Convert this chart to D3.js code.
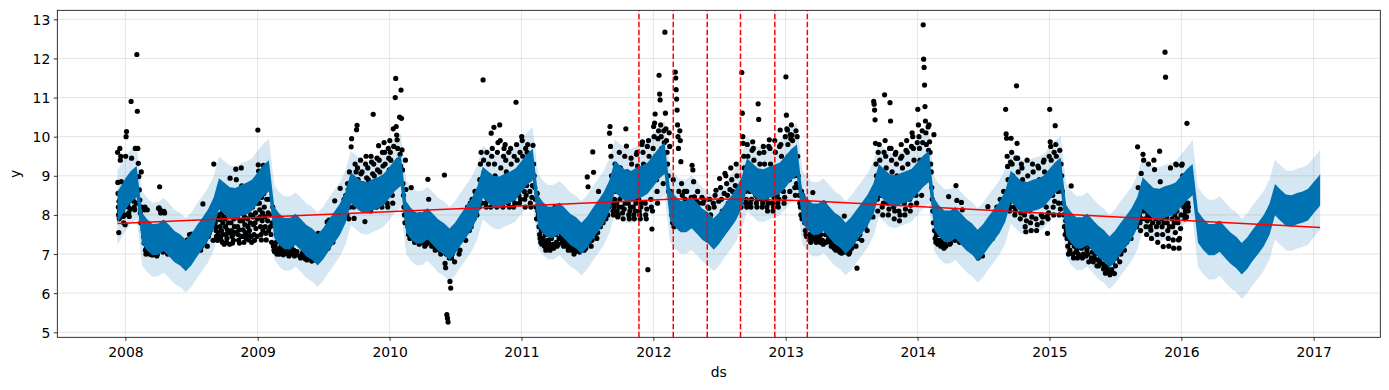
<!DOCTYPE html>
<html><head><meta charset="utf-8">
<script src="https://cdn.jsdelivr.net/npm/d3@7"></script>
<style>
body{margin:0;background:#fff}
svg{display:block}
text{font-family:"DejaVu Sans",sans-serif;fill:#000}
</style>
</head><body>
<svg id="chart" width="1389" height="390"></svg>
<script>
// ---------------- data ----------------
const xTickLabels = ["2008","2009","2010","2011","2012","2013","2014","2015","2016","2017"];
const yTickLabels = [5,6,7,8,9,10,11,12,13];
const changepoints = ["2011-11-22","2012-02-25","2012-05-29","2012-08-29","2012-12-02","2013-03-02"];
const trendDates  = ["2007-12-10","2011-11-22","2012-02-25","2012-05-29","2012-08-29","2012-12-02","2013-03-02","2017-01-19"];
const trendValues = [7.78, 8.36, 8.41, 8.41, 8.40, 8.38, 8.36, 7.68];

// forecast, semi-monthly (1st & 16th), 2007-12-10 .. 2017-01-19
// fcHi / fcLo : extent of the yhat line (weekly swing); bandHi / bandLo : uncertainty interval
const fcHi = [
 8.60, 8.68,
 8.94, 9.12, 9.25, 8.06, 7.89, 7.77, 7.78, 7.88, 7.74, 7.59, 7.50, 7.36, 7.51, 7.72, 7.93, 8.13, 8.44, 8.94, 8.82, 8.71, 8.69, 8.77, 8.82, 8.90,
 9.09, 9.27, 9.40, 8.21, 8.04, 7.92, 7.93, 8.03, 7.89, 7.74, 7.65, 7.51, 7.66, 7.87, 8.08, 8.28, 8.59, 9.09, 8.97, 8.86, 8.84, 8.92, 8.97, 9.05,
 9.23, 9.41, 9.54, 8.35, 8.18, 8.06, 8.07, 8.17, 8.03, 7.88, 7.79, 7.65, 7.80, 8.01, 8.22, 8.42, 8.73, 9.23, 9.11, 9.00, 8.98, 9.06, 9.11, 9.19,
 9.38, 9.56, 9.69, 8.50, 8.33, 8.21, 8.22, 8.32, 8.18, 8.03, 7.94, 7.80, 7.95, 8.16, 8.37, 8.57, 8.88, 9.38, 9.26, 9.15, 9.13, 9.21, 9.26, 9.34,
 9.53, 9.71, 9.85, 8.66, 8.49, 8.36, 8.36, 8.46, 8.31, 8.16, 8.06, 7.91, 8.06, 8.26, 8.46, 8.66, 8.96, 9.45, 9.32, 9.19, 9.17, 9.23, 9.28, 9.34,
 9.51, 9.68, 9.80, 8.60, 8.43, 8.29, 8.29, 8.38, 8.22, 8.06, 7.96, 7.80, 7.94, 8.13, 8.33, 8.52, 8.81, 9.30, 9.17, 9.04, 9.01, 9.07, 9.12, 9.18,
 9.35, 9.51, 9.64, 8.43, 8.25, 8.11, 8.11, 8.20, 8.04, 7.89, 7.78, 7.62, 7.76, 7.96, 8.15, 8.34, 8.63, 9.13, 8.99, 8.86, 8.84, 8.90, 8.94, 9.00,
 9.18, 9.34, 9.47, 8.26, 8.08, 7.94, 7.94, 8.03, 7.87, 7.72, 7.61, 7.45, 7.59, 7.79, 7.98, 8.17, 8.46, 8.96, 8.82, 8.69, 8.67, 8.73, 8.77, 8.83,
 9.01, 9.17, 9.30, 8.09, 7.91, 7.77, 7.77, 7.86, 7.70, 7.55, 7.44, 7.28, 7.42, 7.62, 7.81, 8.00, 8.29, 8.79, 8.65, 8.52, 8.50, 8.56, 8.60, 8.66,
 8.84, 9.00, 9.05
];
const fcLo = [
 7.80, 7.88,
 8.14, 8.32, 8.45, 7.26, 7.09, 6.97, 6.98, 7.08, 6.94, 6.79, 6.70, 6.56, 6.71, 6.92, 7.13, 7.33, 7.64, 8.14, 8.02, 7.91, 7.89, 7.97, 8.02, 8.10,
 8.29, 8.47, 8.60, 7.41, 7.24, 7.12, 7.13, 7.23, 7.09, 6.94, 6.85, 6.71, 6.86, 7.07, 7.28, 7.48, 7.79, 8.29, 8.17, 8.06, 8.04, 8.12, 8.17, 8.25,
 8.43, 8.61, 8.74, 7.55, 7.38, 7.26, 7.27, 7.37, 7.23, 7.08, 6.99, 6.85, 7.00, 7.21, 7.42, 7.62, 7.93, 8.43, 8.31, 8.20, 8.18, 8.26, 8.31, 8.39,
 8.58, 8.76, 8.89, 7.70, 7.53, 7.41, 7.42, 7.52, 7.38, 7.23, 7.14, 7.00, 7.15, 7.36, 7.57, 7.77, 8.08, 8.58, 8.46, 8.35, 8.33, 8.41, 8.46, 8.54,
 8.73, 8.91, 9.05, 7.86, 7.69, 7.56, 7.56, 7.66, 7.51, 7.36, 7.26, 7.11, 7.26, 7.46, 7.66, 7.86, 8.16, 8.65, 8.52, 8.39, 8.37, 8.43, 8.48, 8.54,
 8.71, 8.88, 9.00, 7.80, 7.63, 7.49, 7.49, 7.58, 7.42, 7.26, 7.16, 7.00, 7.14, 7.33, 7.53, 7.72, 8.01, 8.50, 8.37, 8.24, 8.21, 8.27, 8.32, 8.38,
 8.55, 8.71, 8.84, 7.63, 7.45, 7.31, 7.31, 7.40, 7.24, 7.09, 6.98, 6.82, 6.96, 7.16, 7.35, 7.54, 7.83, 8.33, 8.19, 8.06, 8.04, 8.10, 8.14, 8.20,
 8.38, 8.54, 8.67, 7.46, 7.28, 7.14, 7.14, 7.23, 7.07, 6.92, 6.81, 6.65, 6.79, 6.99, 7.18, 7.37, 7.66, 8.16, 8.02, 7.89, 7.87, 7.93, 7.97, 8.03,
 8.21, 8.37, 8.50, 7.29, 7.11, 6.97, 6.97, 7.06, 6.90, 6.75, 6.64, 6.48, 6.62, 6.82, 7.01, 7.20, 7.49, 7.99, 7.85, 7.72, 7.70, 7.76, 7.80, 7.86,
 8.04, 8.20, 8.25
];
const bandHi = [
 9.15, 9.23,
 9.49, 9.67, 9.80, 8.61, 8.44, 8.32, 8.33, 8.43, 8.29, 8.14, 8.05, 7.91, 8.06, 8.27, 8.48, 8.68, 8.99, 9.49, 9.37, 9.26, 9.24, 9.32, 9.37, 9.45,
 9.64, 9.82, 9.95, 8.76, 8.59, 8.47, 8.48, 8.58, 8.44, 8.29, 8.20, 8.06, 8.21, 8.42, 8.63, 8.83, 9.14, 9.64, 9.52, 9.41, 9.39, 9.47, 9.52, 9.60,
 9.78, 9.96, 10.09, 8.90, 8.73, 8.61, 8.62, 8.72, 8.58, 8.43, 8.34, 8.20, 8.35, 8.56, 8.77, 8.97, 9.28, 9.78, 9.66, 9.55, 9.53, 9.61, 9.66, 9.74,
 9.93, 10.11, 10.24, 9.05, 8.88, 8.76, 8.77, 8.87, 8.73, 8.58, 8.49, 8.35, 8.50, 8.71, 8.92, 9.12, 9.43, 9.93, 9.81, 9.70, 9.68, 9.76, 9.81, 9.89,
 10.08, 10.26, 10.40, 9.21, 9.04, 8.91, 8.91, 9.01, 8.86, 8.71, 8.61, 8.46, 8.61, 8.81, 9.01, 9.21, 9.51, 10.00, 9.87, 9.74, 9.72, 9.78, 9.83, 9.89,
 10.06, 10.23, 10.35, 9.15, 8.98, 8.84, 8.84, 8.93, 8.77, 8.61, 8.51, 8.35, 8.49, 8.68, 8.88, 9.07, 9.36, 9.85, 9.72, 9.59, 9.56, 9.62, 9.67, 9.73,
 9.90, 10.06, 10.19, 8.98, 8.80, 8.66, 8.66, 8.75, 8.59, 8.44, 8.33, 8.17, 8.31, 8.51, 8.70, 8.89, 9.18, 9.68, 9.54, 9.41, 9.39, 9.45, 9.49, 9.55,
 9.73, 9.89, 10.02, 8.81, 8.63, 8.49, 8.49, 8.58, 8.42, 8.27, 8.16, 8.00, 8.14, 8.34, 8.53, 8.72, 9.01, 9.51, 9.37, 9.24, 9.22, 9.28, 9.32, 9.38,
 9.56, 9.72, 9.92, 8.71, 8.53, 8.39, 8.39, 8.48, 8.32, 8.17, 8.06, 7.90, 8.04, 8.24, 8.43, 8.62, 8.91, 9.41, 9.27, 9.14, 9.12, 9.18, 9.22, 9.28,
 9.46, 9.62, 9.67
];
const bandLo = [
 7.25, 7.33,
 7.59, 7.77, 7.90, 6.71, 6.54, 6.42, 6.43, 6.53, 6.39, 6.24, 6.15, 6.01, 6.16, 6.37, 6.58, 6.78, 7.09, 7.59, 7.47, 7.36, 7.34, 7.42, 7.47, 7.55,
 7.74, 7.92, 8.05, 6.86, 6.69, 6.57, 6.58, 6.68, 6.54, 6.39, 6.30, 6.16, 6.31, 6.52, 6.73, 6.93, 7.24, 7.74, 7.62, 7.51, 7.49, 7.57, 7.62, 7.70,
 7.88, 8.06, 8.19, 7.00, 6.83, 6.71, 6.72, 6.82, 6.68, 6.53, 6.44, 6.30, 6.45, 6.66, 6.87, 7.07, 7.38, 7.88, 7.76, 7.65, 7.63, 7.71, 7.76, 7.84,
 8.03, 8.21, 8.34, 7.15, 6.98, 6.86, 6.87, 6.97, 6.83, 6.68, 6.59, 6.45, 6.60, 6.81, 7.02, 7.22, 7.53, 8.03, 7.91, 7.80, 7.78, 7.86, 7.91, 7.99,
 8.18, 8.36, 8.50, 7.31, 7.14, 7.01, 7.01, 7.11, 6.96, 6.81, 6.71, 6.56, 6.71, 6.91, 7.11, 7.31, 7.61, 8.10, 7.97, 7.84, 7.82, 7.88, 7.93, 7.99,
 8.16, 8.33, 8.45, 7.25, 7.08, 6.94, 6.94, 7.03, 6.87, 6.71, 6.61, 6.45, 6.59, 6.78, 6.98, 7.17, 7.46, 7.95, 7.82, 7.69, 7.66, 7.72, 7.77, 7.83,
 8.00, 8.16, 8.29, 7.08, 6.90, 6.76, 6.76, 6.85, 6.69, 6.54, 6.43, 6.27, 6.41, 6.61, 6.80, 6.99, 7.28, 7.78, 7.64, 7.51, 7.49, 7.55, 7.59, 7.65,
 7.83, 7.99, 8.12, 6.91, 6.73, 6.59, 6.59, 6.68, 6.52, 6.37, 6.26, 6.10, 6.24, 6.44, 6.63, 6.82, 7.11, 7.61, 7.47, 7.34, 7.32, 7.38, 7.42, 7.48,
 7.66, 7.82, 7.88, 6.67, 6.49, 6.35, 6.35, 6.44, 6.28, 6.13, 6.02, 5.86, 6.00, 6.20, 6.39, 6.58, 6.87, 7.37, 7.23, 7.10, 7.08, 7.14, 7.18, 7.24,
 7.42, 7.58, 7.63
];

// observed points, grouped by half-month (1st-15th, 16th-end)
const obs2007 = [
 [9.6, 8.83, 8.55, 8.2, 8.0, 7.55, 8.35, 7.9, 8.1],
 [9.7, 9.4, 9.5, 8.85, 8.6, 8.3, 8.13, 7.96, 7.8, 8.45, 8.0, 7.75]
];
const obs2008 = [
 [9.5, 10.0, 10.13, 8.7, 8.55, 8.3, 8.2, 8.05, 7.96, 8.9, 8.4, 8.15],
 [10.9, 9.45, 9.0, 8.72, 8.47, 8.35, 8.2, 8.13, 9.7, 8.6, 8.3],
 [12.1, 10.65, 9.7, 9.32, 8.98, 8.64, 8.38, 8.05, 7.8, 9.1, 8.2],
 [7.92, 7.8, 7.62, 7.44, 7.28, 8.13, 8.2, 7.1, 7.0, 7.15, 7.05],
 [8.13, 7.36, 7.2, 7.02, 7.0, 7.1, 7.5, 7.05, 6.98, 7.15],
 [6.98, 7.02, 7.28, 7.1, 7.05, 7.6, 7.4, 6.95, 7.0, 7.12],
 [8.17, 8.18, 8.72, 8.13, 8.05, 7.62, 7.11, 7.3, 7.05, 7.2],
 [8.09, 8.05, 7.28, 7.11, 7.45, 7.2, 7.0, 7.1, 7.15],
 [7.28, 7.36, 7.11, 7.53, 7.2, 7.05, 7.15],
 [7.15, 7.23, 7.28, 7.05, 7.1, 7.2],
 [7.28, 7.36, 7.2, 7.15, 7.25],
 [7.15, 7.36, 7.25, 7.5, 7.3],
 [7.51, 7.28, 7.2, 7.4, 7.3],
 [7.15, 7.28, 7.3, 7.1, 7.2],
 [8.28, 7.28, 7.36, 7.45, 7.2],
 [7.45, 7.53, 7.6, 7.7, 8.05, 7.35],
 [9.3, 8.13, 7.96, 7.8, 7.7, 7.6, 7.45, 8.3, 7.35, 7.9, 7.55, 8.0],
 [8.2, 7.88, 7.7, 7.45, 7.36, 7.6, 8.05, 7.3, 7.8, 7.5, 7.95, 7.25],
 [8.1, 7.9, 7.7, 7.5, 7.3, 7.4, 7.62, 8.2, 7.8, 7.55, 8.0, 7.25],
 [8.94, 8.0, 7.8, 7.6, 7.45, 7.28, 7.5, 7.35, 7.9, 7.7, 8.1, 7.55],
 [9.17, 8.9, 8.15, 7.95, 7.7, 7.5, 7.35, 7.62, 7.28, 7.85, 8.05, 7.45],
 [9.2, 8.74, 8.1, 7.85, 7.62, 7.45, 7.3, 7.96, 7.75, 7.55, 8.2, 7.4],
 [8.3, 8.1, 7.9, 7.7, 7.5, 7.36, 7.6, 8.2, 7.8, 8.0, 7.45, 7.3],
 [8.5, 8.2, 7.95, 7.75, 7.5, 7.35, 7.8, 8.05, 7.65, 8.3, 7.45, 7.9]
];
const obs2009 = [
 [10.17, 9.28, 9.12, 8.6, 8.3, 8.13, 7.95, 7.7, 7.5, 7.36, 8.45, 7.85, 8.05, 7.6],
 [9.27, 8.55, 8.2, 7.95, 7.7, 7.53, 7.36, 8.4, 8.9, 7.85, 8.05, 7.6],
 [8.4, 8.0, 7.7, 7.5, 7.3, 7.8, 8.2, 7.2, 7.1],
 [7.06, 7.19, 7.1, 7.3, 7.0, 7.45, 7.02, 7.12],
 [7.0, 7.02, 7.19, 7.1, 7.3, 6.98, 7.08],
 [7.02, 7.1, 7.2, 7.4, 7.0, 6.95, 7.06],
 [7.0, 7.2, 7.4, 7.6, 7.1, 6.95, 7.05],
 [7.0, 7.06, 7.3, 7.5, 6.95, 6.9],
 [6.93, 7.02, 7.1, 7.2, 6.88, 6.97],
 [6.85, 6.93, 7.0, 7.1, 6.9, 6.82],
 [6.9, 7.0, 6.85, 7.1, 6.95],
 [7.53, 6.93, 7.0, 7.1, 7.2, 7.05],
 [7.5, 7.3, 7.2, 7.6, 7.82, 7.15],
 [7.87, 7.6, 7.4, 7.7, 7.3, 7.5],
 [8.36, 7.8, 7.6, 7.9, 8.1, 7.7],
 [8.68, 8.0, 7.85, 8.2, 8.4, 7.95],
 [8.5, 8.3, 8.0, 8.8, 8.65, 7.9, 9.1, 8.2, 8.45],
 [9.74, 9.95, 8.9, 8.6, 8.4, 8.2, 7.91, 8.7, 9.3, 8.5, 9.1],
 [10.18, 10.29, 9.2, 8.9, 8.6, 8.4, 8.2, 8.8, 9.4, 9.05, 8.5],
 [9.1, 8.8, 8.6, 8.4, 8.2, 7.83, 9.3, 9.5, 8.95, 8.3],
 [9.2, 8.9, 8.7, 8.5, 8.3, 8.1, 9.5, 9.35, 8.6, 9.05],
 [10.57, 9.3, 9.0, 8.8, 8.6, 8.4, 8.2, 9.45, 9.15, 8.7],
 [9.77, 9.4, 9.1, 8.9, 8.6, 8.4, 8.2, 9.6, 9.25, 8.75],
 [9.85, 9.6, 9.3, 9.0, 8.7, 8.5, 8.3, 8.2, 9.7, 9.45, 9.15]
];
const obs2010 = [
 [9.9, 9.6, 9.4, 9.1, 8.8, 8.5, 8.3, 10.2, 9.75, 9.25, 8.95],
 [11.0, 11.49, 10.26, 10.04, 9.92, 9.7, 9.4, 9.1, 8.8, 10.5, 9.55, 9.25],
 [11.19, 10.47, 9.66, 9.15, 8.8, 8.5, 8.2, 8.0, 7.8, 9.4, 8.65],
 [8.2, 7.9, 7.7, 7.5, 7.6, 7.4, 7.55],
 [8.7, 8.0, 7.8, 7.6, 7.4, 7.3, 7.5, 7.35],
 [7.7, 7.5, 7.35, 7.25, 8.0, 7.3, 7.4],
 [7.4, 7.3, 7.6, 7.2, 7.8, 7.25, 7.35],
 [8.91, 8.4, 7.5, 7.3, 7.6, 7.2, 7.35],
 [7.4, 7.2, 7.1, 7.5, 7.15, 7.3],
 [7.3, 7.1, 7.0, 7.4, 7.05, 7.2],
 [9.02, 6.76, 6.65, 7.0, 5.45, 5.36, 5.26, 7.2, 6.9],
 [6.3, 6.13, 6.9, 7.0, 7.2, 7.4, 6.8],
 [7.2, 7.4, 7.5, 7.3, 7.0, 7.1],
 [7.6, 7.8, 7.5, 7.4, 7.7, 7.35],
 [8.0, 8.2, 7.8, 7.6, 8.3, 7.7],
 [8.4, 8.1, 7.9, 8.6, 8.2, 8.0],
 [8.6, 8.4, 8.2, 8.9, 9.3, 9.6, 8.3, 8.5],
 [11.45, 9.4, 9.1, 8.8, 8.5, 8.3, 8.2, 9.6, 8.4, 8.6],
 [9.3, 9.0, 8.7, 8.4, 8.2, 10.09, 9.5, 9.7, 8.3, 8.5],
 [10.24, 9.3, 9.0, 8.7, 8.4, 8.2, 9.6, 9.85, 8.3, 8.55],
 [10.3, 9.9, 9.2, 8.9, 8.6, 8.3, 8.2, 9.5, 9.7, 8.45],
 [9.8, 9.4, 9.1, 8.8, 8.5, 8.3, 9.6, 8.2, 8.4],
 [9.7, 9.3, 9.0, 8.7, 8.4, 8.2, 9.5, 8.3, 8.55],
 [10.88, 9.8, 9.4, 9.1, 8.8, 8.5, 8.3, 9.6, 8.4, 8.65]
];
const obs2011 = [
 [10.0, 9.9, 9.5, 9.2, 8.9, 8.6, 8.4, 8.2, 9.7, 8.5, 8.75],
 [9.6, 9.8, 9.5, 9.2, 8.9, 8.6, 8.3, 8.2, 9.35, 8.45, 8.75],
 [9.78, 9.3, 9.0, 8.7, 8.4, 8.2, 7.9, 8.55, 8.1],
 [8.0, 7.7, 7.5, 7.4, 7.3, 7.6, 7.25, 7.35],
 [7.4, 7.25, 7.2, 7.5, 7.1, 7.3, 7.15, 7.35],
 [7.3, 7.2, 7.1, 7.5, 7.4, 8.1, 7.25, 7.15],
 [7.9, 8.2, 7.5, 7.3, 7.2, 7.6, 7.25, 7.4],
 [8.1, 7.8, 7.5, 7.3, 7.4, 7.2, 7.35],
 [7.4, 7.3, 7.2, 7.6, 7.1, 7.15, 7.25],
 [7.2, 7.1, 7.15, 7.3, 7.0, 7.05, 7.22],
 [7.1, 7.15, 7.2, 7.4, 7.05, 7.12, 7.25],
 [7.2, 7.3, 7.4, 7.1, 7.6, 7.15, 7.25],
 [8.97, 8.72, 7.3, 7.5, 7.4, 7.2, 7.35],
 [9.61, 9.09, 7.6, 7.5, 7.8, 7.4, 7.55],
 [8.6, 7.9, 7.7, 8.0, 8.2, 7.8],
 [8.3, 8.1, 7.9, 8.4, 8.0, 8.2],
 [10.09, 10.26, 9.75, 9.5, 9.0, 8.6, 8.3, 8.1, 8.0, 8.2, 8.4],
 [9.3, 9.0, 8.6, 8.3, 8.1, 7.95, 8.0, 8.2, 9.6, 8.4],
 [9.2, 8.9, 8.5, 8.2, 8.05, 7.9, 8.6, 8.15, 9.5, 8.3],
 [10.2, 9.76, 9.1, 8.7, 8.3, 8.0, 7.9, 8.1, 8.2, 9.45],
 [9.3, 9.0, 8.6, 8.2, 8.0, 7.9, 8.4, 8.1, 8.3, 9.55],
 [9.6, 9.25, 8.9, 8.4, 8.1, 8.0, 7.9, 8.2, 8.3, 9.8],
 [9.87, 9.6, 9.3, 9.0, 8.6, 8.3, 8.0, 7.9, 8.15, 9.75],
 [6.6, 9.9, 9.5, 9.2, 8.8, 8.4, 8.2, 7.64, 8.1, 9.7]
];
const obs2012 = [
 [10.26, 10.0, 10.35, 10.58, 9.5, 9.2, 8.9, 8.6, 8.3, 9.95, 10.15],
 [11.57, 11.09, 10.94, 10.3, 10.0, 9.7, 9.4, 9.1, 8.8, 10.15, 9.85],
 [12.67, 10.6, 10.2, 9.9, 9.6, 9.3, 9.0, 8.6, 10.1, 9.75],
 [8.6, 8.3, 8.0, 7.8, 8.9, 7.7, 8.2],
 [11.65, 11.5, 11.2, 10.96, 10.68, 10.3, 10.0, 9.7, 8.6, 8.2, 10.15, 9.9],
 [9.36, 8.8, 8.5, 8.2, 8.0, 8.6, 8.4, 8.3],
 [8.6, 8.3, 8.1, 7.9, 7.8, 8.45],
 [9.27, 9.15, 8.85, 8.46, 7.7, 8.2, 8.35],
 [8.6, 8.3, 8.0, 7.8, 8.45],
 [8.3, 8.38, 8.0, 7.8, 7.7, 8.2],
 [8.17, 8.4, 8.0, 7.8, 7.6, 8.3],
 [8.2, 8.5, 8.63, 7.9, 7.7, 8.35],
 [8.93, 8.7, 8.4, 8.1, 7.9, 8.55],
 [9.06, 9.0, 8.8, 8.5, 8.3, 8.1, 8.65],
 [9.2, 8.9, 8.6, 8.4, 8.2, 8.75],
 [9.3, 9.0, 8.7, 8.5, 8.3, 8.6, 8.2],
 [11.64, 10.6, 10.0, 9.83, 9.5, 9.2, 8.9, 8.6, 8.3, 8.4, 8.2],
 [9.8, 9.5, 9.2, 8.9, 8.6, 8.3, 8.2, 8.4, 9.65],
 [9.87, 9.7, 9.4, 9.1, 8.8, 8.5, 8.3, 8.2, 8.4],
 [10.84, 10.44, 9.58, 9.3, 9.0, 8.7, 8.4, 8.2, 8.3, 9.75],
 [9.6, 9.3, 9.0, 8.7, 8.4, 8.2, 8.1, 8.3, 9.75],
 [9.92, 9.7, 9.3, 9.0, 8.6, 8.3, 8.1, 8.2, 8.45],
 [9.9, 9.6, 9.2, 8.9, 8.5, 8.3, 8.2, 8.4, 9.75],
 [10.17, 9.8, 9.5, 9.2, 8.9, 8.6, 8.3, 8.45, 10.0]
];
const obs2013 = [
 [11.53, 10.55, 10.2, 10.17, 9.8, 9.5, 9.2, 8.9, 8.6, 10.05, 9.95],
 [10.3, 10.04, 9.9, 9.6, 9.3, 9.0, 8.7, 8.5, 10.15, 8.8],
 [10.0, 9.5, 9.0, 8.7, 8.5, 8.3, 8.2, 8.0, 8.6, 7.9],
 [8.5, 8.2, 8.0, 7.8, 7.6, 7.5, 7.45],
 [8.3, 8.0, 7.7, 7.5, 7.4, 7.3, 7.35, 7.45],
 [8.57, 7.9, 7.6, 7.4, 7.3, 7.5, 7.35],
 [7.6, 7.4, 7.3, 7.5, 8.0, 7.35, 7.25],
 [8.3, 7.8, 7.5, 7.3, 7.6, 7.35, 7.4],
 [7.5, 7.3, 7.2, 7.4, 7.25, 7.15],
 [7.3, 7.1, 7.2, 7.4, 7.15, 7.05],
 [7.1, 7.02, 7.2, 7.3, 7.97, 7.05],
 [7.1, 7.2, 7.3, 7.0, 7.05, 7.15],
 [7.15, 7.3, 7.5, 7.4, 7.2],
 [6.64, 7.4, 7.6, 7.5, 7.8, 7.35],
 [7.8, 8.0, 7.7, 8.2, 7.6],
 [8.2, 8.4, 8.1, 8.55, 7.95],
 [10.9, 10.83, 10.68, 10.43, 9.83, 9.3, 9.0, 8.7, 8.4, 8.1, 9.6, 8.5],
 [9.8, 9.4, 9.1, 8.8, 8.5, 8.2, 8.0, 8.3, 9.6],
 [11.07, 9.9, 9.5, 9.2, 8.9, 8.6, 8.3, 8.0, 8.15, 9.7],
 [10.87, 10.4, 9.7, 9.4, 9.1, 8.8, 8.5, 8.2, 7.9, 8.1, 9.55],
 [9.6, 9.3, 9.0, 8.7, 8.4, 8.1, 7.85, 8.0, 9.45],
 [9.8, 9.5, 9.2, 8.9, 8.6, 8.3, 8.0, 8.15, 9.65],
 [9.9, 9.6, 9.3, 9.0, 8.7, 8.4, 8.1, 8.25, 9.75],
 [10.1, 10.0, 9.7, 9.4, 9.1, 8.8, 8.5, 8.3, 9.85]
];
const obs2014 = [
 [10.7, 10.3, 10.0, 9.7, 9.4, 9.1, 8.8, 8.5, 10.15, 9.85],
 [12.86, 11.98, 11.77, 11.32, 10.77, 10.4, 10.1, 9.8, 9.5, 9.2, 8.9, 10.25, 9.65],
 [10.3, 9.87, 9.6, 9.3, 9.1, 8.7, 8.4, 8.1, 7.8, 10.05],
 [7.6, 7.4, 7.3, 7.5, 7.8, 7.25, 7.35],
 [7.5, 7.3, 7.2, 7.36, 7.8, 7.25, 7.15],
 [7.3, 7.2, 7.4, 7.6, 8.47, 7.25],
 [7.28, 7.5, 7.7, 7.4, 8.0, 7.35],
 [8.75, 8.37, 7.9, 7.5, 7.3, 7.4],
 [8.32, 8.13, 7.8, 7.5, 7.35, 7.25],
 [7.7, 7.6, 7.4, 7.2, 7.5, 7.15],
 [7.2, 7.1, 7.3, 7.0, 7.05],
 [6.9, 7.0, 7.1, 7.2, 6.95],
 [7.2, 7.4, 7.5, 7.3, 8.21],
 [7.6, 7.8, 7.5, 7.4, 7.55],
 [7.9, 8.1, 8.2, 7.7, 7.85],
 [8.4, 8.2, 8.0, 8.6, 8.1],
 [10.7, 10.07, 9.96, 9.5, 9.24, 8.9, 8.6, 8.3, 8.1, 8.2, 9.35],
 [9.96, 9.6, 9.3, 9.0, 8.7, 8.4, 8.2, 8.0, 8.1, 9.45],
 [11.3, 9.83, 9.45, 9.1, 8.8, 8.5, 8.2, 7.9, 8.05, 9.3],
 [9.2, 8.9, 8.6, 8.3, 8.0, 7.7, 7.57, 7.85, 9.4],
 [9.0, 8.7, 8.4, 8.1, 7.8, 7.6, 7.95, 9.3],
 [9.1, 8.8, 8.5, 8.2, 7.9, 7.6, 7.75, 9.25],
 [9.2, 8.9, 8.6, 8.3, 8.0, 7.8, 7.95, 9.35],
 [9.4, 9.1, 8.8, 8.5, 8.2, 7.96, 7.53, 7.9, 8.05, 9.5]
];
const obs2015 = [
 [10.7, 9.87, 9.75, 9.4, 9.1, 8.8, 8.5, 8.2, 8.0, 9.6, 8.35],
 [10.28, 9.8, 9.5, 9.2, 8.9, 8.6, 8.3, 8.0, 9.65, 8.15],
 [9.3, 9.0, 8.6, 8.3, 8.0, 7.7, 7.5, 7.85],
 [7.6, 7.4, 7.2, 7.0, 7.8, 7.1, 7.3],
 [8.74, 7.3, 7.0, 6.9, 7.2, 7.5, 7.05],
 [7.1, 6.9, 7.0, 7.3, 7.5, 6.95, 7.15],
 [6.9, 7.0, 7.2, 7.4, 6.95, 7.1],
 [7.0, 6.8, 7.2, 7.4, 6.9, 7.05],
 [6.8, 6.9, 7.0, 7.2, 6.7, 6.85],
 [6.7, 6.8, 6.9, 7.1, 6.75, 6.62],
 [6.68, 6.51, 6.7, 6.9, 6.6, 6.55],
 [6.47, 6.55, 6.6, 6.8, 7.0, 6.5],
 [6.7, 6.9, 7.0, 7.2, 6.8],
 [7.0, 7.2, 7.4, 7.1, 7.3],
 [7.3, 7.5, 7.6, 7.8, 7.4],
 [7.6, 7.8, 8.0, 7.9, 7.7],
 [9.74, 8.7, 8.2, 8.0, 7.8, 7.6, 9.06, 7.9, 8.1],
 [9.55, 9.4, 8.76, 8.1, 7.9, 7.7, 7.5, 7.85, 8.0],
 [9.3, 8.2, 7.9, 7.7, 7.61, 7.4, 8.0, 7.8, 8.1],
 [9.4, 9.16, 8.1, 7.9, 7.7, 7.5, 7.3, 7.8, 8.0],
 [9.63, 8.85, 8.1, 7.9, 7.7, 7.5, 7.19, 7.8, 8.0],
 [12.16, 11.52, 8.2, 7.95, 7.8, 7.6, 7.4, 7.2, 7.7, 8.05],
 [9.2, 8.4, 8.1, 7.9, 7.7, 7.36, 7.15, 7.8, 8.0, 7.55],
 [9.3, 9.28, 8.1, 7.9, 7.8, 7.36, 7.15, 7.4, 8.3, 7.65, 8.0]
];
const obs2016 = [
 [9.27, 9.3, 9.0, 8.4, 8.2, 8.0, 7.9, 8.1, 8.3, 7.95],
 [10.34, 8.9, 8.6, 8.3, 8.1, 8.2]
];

// ---------------- build ----------------
const parse = d3.utcParse("%Y-%m-%d");
const pad = m => String(m).padStart(2, "0");

const fcDates = ["2007-12-10", "2007-12-16"];
for (let y = 2008; y <= 2016; y++) for (let m = 1; m <= 12; m++) fcDates.push(`${y}-${pad(m)}-01`, `${y}-${pad(m)}-16`);
fcDates.push("2017-01-01", "2017-01-16", "2017-01-19");
const forecast = fcDates.map((d, i) => ({ds: parse(d), hi: fcHi[i], lo: fcLo[i], up: bandHi[i], dn: bandLo[i]}));

const periods = [["2007-12-10", "2007-12-16"], ["2007-12-16", "2008-01-01"]];
for (let y = 2008; y <= 2015; y++) for (let m = 1; m <= 12; m++) {
  const next = m === 12 ? `${y + 1}-01-01` : `${y}-${pad(m + 1)}-01`;
  periods.push([`${y}-${pad(m)}-01`, `${y}-${pad(m)}-16`], [`${y}-${pad(m)}-16`, next]);
}
periods.push(["2016-01-01", "2016-01-16"], ["2016-01-16", "2016-01-21"]);
const obsGroups = [].concat(obs2007, obs2008, obs2009, obs2010, obs2011, obs2012, obs2013, obs2014, obs2015, obs2016);
const points = [];
obsGroups.forEach((vals, i) => {
  const a = +parse(periods[i][0]), b = +parse(periods[i][1]);
  vals.forEach((v, k) => points.push({ds: new Date(a + (k + 0.5) * (b - a) / vals.length), y: v}));
});
const trend = trendDates.map((d, i) => ({ds: parse(d), y: trendValues[i]}));

// ---------------- draw ----------------
const L = 57.3, R = 1380.3, T = 10.3, B = 337.3;
const svg = d3.select("#chart");
svg.append("rect").attr("width", 1389).attr("height", 390).attr("fill", "#fff");

const x = d3.scaleUtc().domain([Date.UTC(2007, 5, 26, 14), Date.UTC(2017, 6, 4, 10)]).range([L, R]);
const y = d3.scaleLinear().domain([4.872, 13.23]).range([B, T]);

svg.append("clipPath").attr("id", "clip").append("rect").attr("x", L).attr("y", T).attr("width", R - L).attr("height", B - T);
const plot = svg.append("g").attr("clip-path", "url(#clip)");

// uncertainty band
plot.append("path").datum(forecast)
  .attr("d", d3.area().x(d => x(d.ds)).y0(d => y(d.dn)).y1(d => y(d.up)))
  .attr("fill", "#0072B2").attr("fill-opacity", 0.17);

// grid
const xTicks = xTickLabels.map(s => parse(s + "-01-01"));
const gridG = plot.append("g").attr("stroke", "gray").attr("stroke-opacity", 0.2).attr("stroke-width", 1);
gridG.selectAll(".gx").data(xTicks).join("line").attr("x1", d => x(d)).attr("x2", d => x(d)).attr("y1", T).attr("y2", B);
gridG.selectAll(".gy").data(yTickLabels).join("line").attr("y1", d => y(d)).attr("y2", d => y(d)).attr("x1", L).attr("x2", R);

// observed points
plot.append("g").selectAll("circle").data(points).join("circle")
  .attr("cx", d => x(d.ds)).attr("cy", d => y(d.y)).attr("r", 2.6).attr("fill", "#000");

// yhat (weekly swing)
plot.append("path").datum(forecast)
  .attr("d", d3.area().x(d => x(d.ds)).y0(d => y(d.lo)).y1(d => y(d.hi)))
  .attr("fill", "#0072B2");

// trend
plot.append("path").datum(trend)
  .attr("d", d3.line().x(d => x(d.ds)).y(d => y(d.y)))
  .attr("fill", "none").attr("stroke", "red").attr("stroke-width", 1.5);

// changepoints
plot.selectAll(".cp").data(changepoints.map(parse)).join("line")
  .attr("x1", d => x(d)).attr("x2", d => x(d)).attr("y1", B).attr("y2", T)
  .attr("stroke", "red").attr("stroke-width", 1.5).attr("stroke-dasharray", "5.55,2.4");

// frame
svg.append("rect").attr("x", L).attr("y", T).attr("width", R - L).attr("height", B - T)
  .attr("fill", "none").attr("stroke", "#000").attr("stroke-width", 0.8);

// axes
const xAxis = d3.axisBottom(x).tickValues(xTicks).tickFormat((d, i) => xTickLabels[i]).tickSize(3.5).tickPadding(3.5);
const yAxis = d3.axisLeft(y).tickValues(yTickLabels).tickFormat(d => String(d)).tickSize(3.5).tickPadding(3.5);
const gx = svg.append("g").attr("transform", `translate(0,${B})`).call(xAxis);
const gy = svg.append("g").attr("transform", `translate(${L},0)`).call(yAxis);
[gx, gy].forEach(g => {
  g.select(".domain").remove();
  g.selectAll(".tick line").attr("stroke", "#000").attr("stroke-width", 0.8);
  g.selectAll(".tick text").attr("font-family", "DejaVu Sans").attr("font-size", "13.9px").attr("fill", "#000");
});
gx.selectAll(".tick text").attr("dy", null).attr("y", 20);
gy.selectAll(".tick text").attr("dy", "0.36em");

svg.append("text").attr("x", (L + R) / 2).attr("y", 376.5).attr("text-anchor", "middle")
  .attr("font-size", "13.9px").text("ds");
svg.append("text").attr("transform", `translate(19.5,${(T + B) / 2}) rotate(-90)`).attr("text-anchor", "middle")
  .attr("font-size", "13.9px").text("y");
</script>
</body></html>
